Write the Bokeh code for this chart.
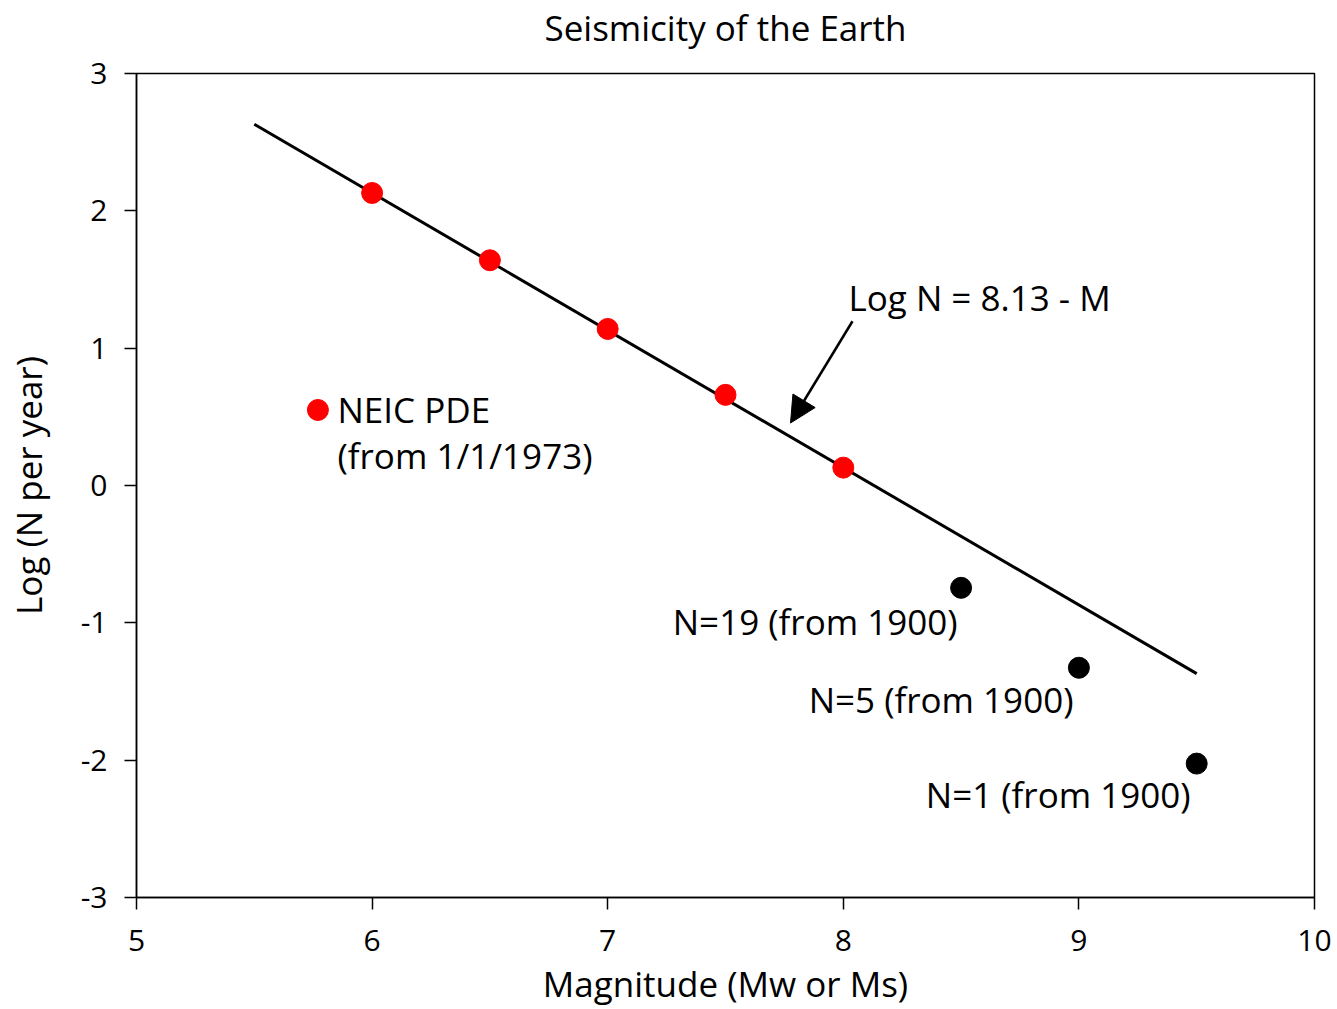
from bokeh.plotting import figure
from bokeh.models import Arrow, NormalHead, Range1d, FixedTicker, ColumnDataSource, LinearAxis
from bokeh.core.properties import value
from bokeh.embed import file_html
from bokeh.resources import INLINE

FONT = "Open Sans"

# Data
neic_mag = [6.0, 6.5, 7.0, 7.5, 8.0]
neic_logn = [2.13, 1.64, 1.14, 0.66, 0.13]
hist_mag = [8.5, 9.0, 9.5]
hist_logn = [-0.745, -1.327, -2.025]
hist_labels = ["N=19 (from 1900)", "N=5 (from 1900)", "N=1 (from 1900)"]
fit_mag = [5.5, 9.5]
fit_intercept = 8.13
fit_logn = [fit_intercept - m for m in fit_mag]
x_ticks = [5, 6, 7, 8, 9, 10]
y_ticks = [-3, -2, -1, 0, 1, 2, 3]
title_text = "Seismicity of the Earth"

p = figure(width=1337, height=1009, output_backend="svg", toolbar_location=None,
           x_range=Range1d(5, 10), y_range=Range1d(-3, 3),
           min_border_left=136, min_border_right=23, min_border_top=72, min_border_bottom=112)

p.grid.visible = False
p.outline_line_color = "black"
p.outline_line_width = 1.5
p.background_fill_color = "white"
p.border_fill_color = "white"

for ax, ticks in ((p.xaxis, x_ticks), (p.yaxis, y_ticks)):
    ax.ticker = FixedTicker(ticks=ticks)
    ax.major_label_overrides = {t: str(t) for t in ticks}
    ax.minor_tick_line_color = None
    ax.major_tick_in = 0
    ax.major_tick_out = 12
    ax.major_tick_line_width = 1.5
    ax.axis_line_width = 1.5
    ax.axis_line_color = "black"
    ax.major_tick_line_color = "black"
    ax.major_label_text_font = FONT
    ax.major_label_text_font_size = "30px"
    ax.major_label_text_color = "black"
    ax.axis_label_text_font = FONT
    ax.axis_label_text_font_size = "35px"
    ax.axis_label_text_font_style = "normal"
    ax.axis_label_text_color = "black"

p.xaxis.axis_label = "Magnitude (Mw or Ms)"
p.yaxis.axis_label = "Log (N per year)"
p.xaxis.major_label_standoff = 20
p.yaxis.major_label_standoff = 17
p.xaxis.axis_label_standoff = 6
p.yaxis.axis_label_standoff = 26

# Title: carried by a tick-less axis above the frame
title_axis = LinearAxis(ticker=FixedTicker(ticks=[]), axis_label=title_text,
                        axis_line_color=None, major_tick_line_color=None,
                        minor_tick_line_color=None, major_label_standoff=0,
                        major_label_text_font_size="0px",
                        axis_label_standoff=23, axis_label_text_font=FONT,
                        axis_label_text_font_size="35px", axis_label_text_font_style="normal",
                        axis_label_text_color="black")
p.add_layout(title_axis, "above")

# Fit line
p.line(fit_mag, fit_logn, line_color="black", line_width=3)

# Points
p.scatter(neic_mag, neic_logn, size=21, fill_color="#ff0000", line_color="#ff0000")
p.scatter(hist_mag, hist_logn, size=21, fill_color="black", line_color="black")

# Legend-like annotation
p.scatter([5.77], [0.55], size=21, fill_color="#ff0000", line_color="#ff0000")
p.text([5.853], [0.55], text=["NEIC PDE"], text_font=value(FONT), text_font_size="35px",
       text_align="left", text_baseline="middle", text_color="black")
p.text([5.853], [0.215], text=["(from 1/1/1973)"], text_font=value(FONT), text_font_size="35px",
       text_align="left", text_baseline="middle", text_color="black")

# Historic labels
src = ColumnDataSource(dict(x=[8.485, 8.977, 9.474], y=[-0.993, -1.56, -2.25], t=hist_labels))
p.text(x="x", y="y", text="t", source=src, text_font=value(FONT), text_font_size="35px",
       text_align="right", text_baseline="middle", text_color="black")

# Equation label and arrow
p.text([8.022], [1.371], text=["Log N = 8.13 - M"], text_font=value(FONT), text_font_size="35px",
       text_align="left", text_baseline="middle", text_color="black")
p.add_layout(Arrow(end=NormalHead(size=26, fill_color="black", line_color="black", line_width=1),
                   x_start=8.039, y_start=1.196, x_end=7.776, y_end=0.455,
                   line_color="black", line_width=2.5))

open("out.html", "w").write(file_html(p, INLINE))
